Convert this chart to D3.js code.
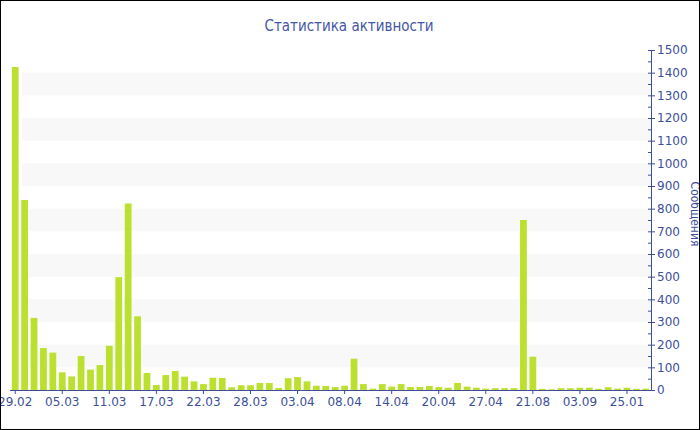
<!DOCTYPE html>
<html><head><meta charset="utf-8">
<script src="https://cdn.jsdelivr.net/npm/d3@7"></script>
<style>body{margin:0;background:#fff}svg{display:block}</style>
</head><body>
<svg id="c" width="700" height="430"></svg>
<script>
const categories = ["29.02","01.03","02.03","03.03","04.03","05.03","06.03","07.03","08.03","10.03",
"11.03","12.03","13.03","14.03","15.03","17.03","18.03","19.03","20.03","21.03",
"22.03","23.03","24.03","25.03","26.03","28.03","29.03","30.03","31.03","01.04",
"03.04","04.04","05.04","06.04","07.04","08.04","09.04","10.04","11.04","12.04",
"14.04","15.04","16.04","17.04","18.04","20.04","21.04","22.04","23.04","25.04",
"27.04","28.04","29.04","30.04","20.08","21.08","22.08","24.08","26.08","29.08",
"03.09","07.09","15.09","02.10","19.11","25.01","14.02","05.03","21.04","10.06"];
const messages = [1425,838,318,185,165,78,60,150,90,110,
195,498,823,325,75,22,66,84,59,38,
26,54,53,12,21,21,31,31,9,52,
57,38,19,18,13,19,138,26,6,26,
15,26,13,13,18,13,10,31,15,10,
6,8,8,8,750,147,5,3,8,8,
10,10,5,12,6,10,5,12,6,6];
const yTicks = [0,100,200,300,400,500,600,700,800,900,1000,1100,1200,1300,1400,1500];
const title = "Статистика активности";
const yTitle = "Сообщения";

const svg = d3.select("#c");
const blue = "#3d4f9c";
const x = d3.scaleBand().domain(categories).range([10.5, 650.5]).paddingInner(0.28).paddingOuter(0.14);
const y = d3.scaleLinear().domain([0,1500]).range([390,50]);

// alternating bands
const bands = yTicks.filter(t => t % 200 === 100 && t < 1500);
svg.append("g").selectAll("rect").data(bands).join("rect")
  .attr("x", 22).attr("width", 651-22)
  .attr("y", d => y(d+100)).attr("height", d => y(d) - y(d+100))
  .attr("fill", "#f8f8f8");

// bars
svg.append("g").selectAll("rect").data(categories).join("rect")
  .attr("x", d => x(d)).attr("width", x.bandwidth())
  .attr("y", (d,i) => y(messages[i])).attr("height", (d,i) => 390 - y(messages[i]))
  .attr("fill", "#bce030");

// x axis
const xAxis = svg.append("g").attr("transform","translate(0,390)")
  .call(d3.axisBottom(x).tickValues(categories.filter((d,i)=>i%5===0)).tickSizeOuter(0).tickSize(4).tickPadding(3));
xAxis.select(".domain").attr("stroke", blue).attr("d","M10,0.5H651");
xAxis.selectAll(".tick line").attr("stroke", blue);
xAxis.selectAll("text").attr("fill", blue).style("font","12px 'DejaVu Sans'");

// y axis on right
const yAxis = svg.append("g").attr("transform","translate(651,0)")
  .call(d3.axisRight(y).tickValues(yTicks).tickFormat(d3.format("d")).tickSize(4).tickSizeOuter(0).tickPadding(2));
yAxis.select(".domain").attr("stroke", blue);
yAxis.selectAll(".tick line").attr("stroke", blue).attr("x1",-3);
yAxis.selectAll("text").attr("fill", blue).style("font","12px 'DejaVu Sans'");
// minor ticks
const minors = d3.range(50,1500,100);
yAxis.append("g").selectAll("line").data(minors).join("line")
  .attr("x1",-3).attr("x2",0).attr("y1",d=>y(d)+0.5).attr("y2",d=>y(d)+0.5).attr("stroke",blue);

// axis title
svg.append("text").attr("transform","translate(691,214) rotate(90)")
  .attr("text-anchor","middle").attr("fill", blue)
  .style("font","12px 'DejaVu Sans Condensed'").text(yTitle);

// chart title
svg.append("text").attr("x",349).attr("y",31).attr("text-anchor","middle")
  .attr("fill", "#4457a6").style("font","15px 'DejaVu Sans Condensed'").text(title);

// border
svg.append("rect").attr("x",0.5).attr("y",0.5).attr("width",699).attr("height",429)
  .attr("fill","none").attr("stroke","#000");
</script>
</body></html>
